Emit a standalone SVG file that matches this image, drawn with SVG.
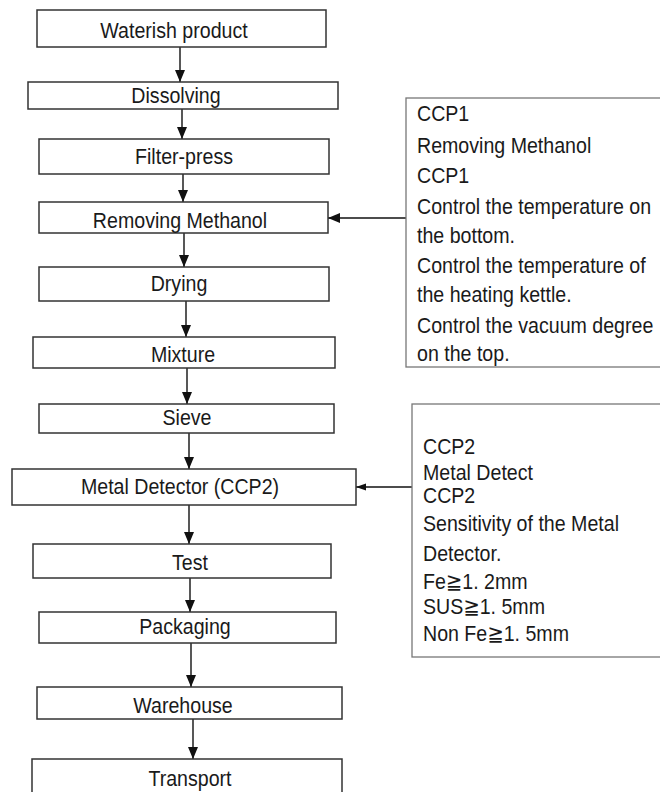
<svg xmlns="http://www.w3.org/2000/svg" width="660" height="792" viewBox="0 0 660 792">
<style>
.box{fill:#fff;stroke:#333;stroke-width:1.5}
.note{fill:#fff;stroke:#777;stroke-width:1.3}
.lbl,.nt{font-family:"Liberation Sans",Arial,"DejaVu Sans","Noto Sans CJK SC",sans-serif;font-size:19.6px;fill:#1a1a1a;transform-box:fill-box;transform-origin:50% 50%;transform:scale(1,1.1)}
.lbl{text-anchor:middle}
.con{stroke:#111;stroke-width:1.4;fill:none}
</style>
<defs>
<marker id="ah" markerUnits="userSpaceOnUse" markerWidth="12" markerHeight="12" viewBox="0 0 12 12" refX="12" refY="6" orient="auto">
<path d="M0,1 L12,6 L0,11 Z" fill="#111"/>
</marker>
<marker id="ahs" markerUnits="userSpaceOnUse" markerWidth="10" markerHeight="10" viewBox="0 0 10 10" refX="10" refY="5" orient="auto">
<path d="M0,1.5 L10,5 L0,8.5 Z" fill="#111"/>
</marker>
</defs>
<rect width="660" height="792" fill="#fff"/>
<g id="connectors">
<line class="con" x1="180" y1="47" x2="180" y2="82" marker-end="url(#ah)"/>
<line class="con" x1="182" y1="109" x2="182" y2="139" marker-end="url(#ah)"/>
<line class="con" x1="183" y1="174" x2="183" y2="202" marker-end="url(#ah)"/>
<line class="con" x1="184" y1="233" x2="184" y2="267" marker-end="url(#ah)"/>
<line class="con" x1="186" y1="301" x2="186" y2="337" marker-end="url(#ah)"/>
<line class="con" x1="187" y1="368" x2="187" y2="404" marker-end="url(#ah)"/>
<line class="con" x1="189" y1="433" x2="189" y2="469" marker-end="url(#ah)"/>
<line class="con" x1="189" y1="505" x2="189" y2="544" marker-end="url(#ah)"/>
<line class="con" x1="190" y1="578" x2="190" y2="612" marker-end="url(#ah)"/>
<line class="con" x1="191" y1="643" x2="191" y2="687" marker-end="url(#ah)"/>
<line class="con" x1="193" y1="719" x2="193" y2="759" marker-end="url(#ah)"/>
<line class="con" x1="406" y1="218" x2="328" y2="218" marker-end="url(#ah)"/>
<line class="con" x1="412" y1="487" x2="356" y2="487" marker-end="url(#ahs)"/>
</g>
<g id="n1"><rect class="box" x="37" y="10" width="289" height="37"/><text class="lbl" x="174" y="37">Waterish product</text></g>
<g id="n2"><rect class="box" x="28" y="82" width="310" height="27"/><text class="lbl" x="176" y="102">Dissolving</text></g>
<g id="n3"><rect class="box" x="39" y="139" width="290" height="35"/><text class="lbl" x="184" y="163">Filter-press</text></g>
<g id="n4"><rect class="box" x="39" y="202" width="289" height="31"/><text class="lbl" x="180" y="227">Removing Methanol</text></g>
<g id="n5"><rect class="box" x="39" y="267" width="290" height="34"/><text class="lbl" x="179" y="290">Drying</text></g>
<g id="n6"><rect class="box" x="33" y="337" width="302" height="31"/><text class="lbl" x="183" y="361">Mixture</text></g>
<g id="n7"><rect class="box" x="39" y="404" width="295" height="29"/><text class="lbl" x="187" y="424">Sieve</text></g>
<g id="n8"><rect class="box" x="12" y="469" width="344" height="36"/><text class="lbl" x="180" y="493">Metal Detector (CCP2)</text></g>
<g id="n9"><rect class="box" x="33" y="544" width="298" height="34"/><text class="lbl" x="190" y="569">Test</text></g>
<g id="n10"><rect class="box" x="39" y="612" width="297" height="31"/><text class="lbl" x="185" y="633">Packaging</text></g>
<g id="n11"><rect class="box" x="37" y="687" width="305" height="32"/><text class="lbl" x="183" y="712">Warehouse</text></g>
<g id="n12"><rect class="box" x="32" y="759" width="310" height="40"/><text class="lbl" x="190" y="785">Transport</text></g>
<g id="ccp1">
<rect class="note" x="406" y="98" width="260" height="269"/>
<text class="nt" x="417" y="120">CCP1</text>
<text class="nt" x="417" y="152">Removing Methanol</text>
<text class="nt" x="417" y="182">CCP1</text>
<text class="nt" x="417" y="213">Control the temperature on</text>
<text class="nt" x="417" y="242">the bottom.</text>
<text class="nt" x="417" y="272">Control the temperature of</text>
<text class="nt" x="417" y="301">the heating kettle.</text>
<text class="nt" x="417" y="332">Control the vacuum degree</text>
<text class="nt" x="417" y="360">on the top.</text>
</g>
<g id="ccp2">
<rect class="note" x="412" y="404" width="254" height="253"/>
<text class="nt" x="423" y="453">CCP2</text>
<text class="nt" x="423" y="479">Metal Detect</text>
<text class="nt" x="423" y="502">CCP2</text>
<text class="nt" x="423" y="530">Sensitivity of the Metal</text>
<text class="nt" x="423" y="560">Detector.</text>
<text class="nt" x="423" y="588">Fe≧1. 2mm</text>
<text class="nt" x="423" y="613">SUS≧1. 5mm</text>
<text class="nt" x="423" y="640">Non Fe≧1. 5mm</text>
</g>
</svg>
